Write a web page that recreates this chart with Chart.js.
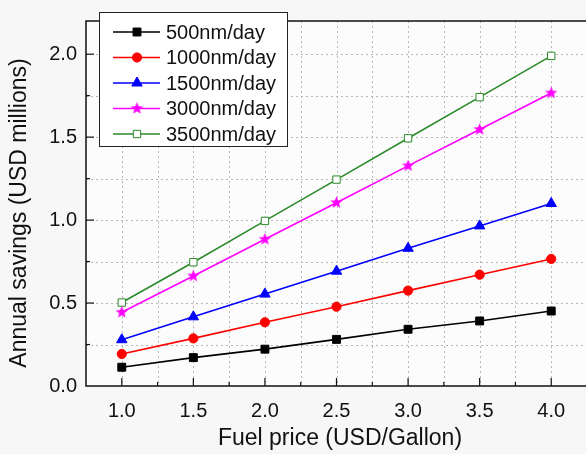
<!DOCTYPE html>
<html>
<head>
<meta charset="utf-8">
<script src="https://cdn.jsdelivr.net/npm/chart.js@4/dist/chart.umd.min.js"></script>
<style>
    html, body { margin: 0; padding: 0; overflow: hidden; background: #f7f7f7; }
    canvas { display: block; }
</style>
</head>
<body>
<canvas id="savingsChart" width="600" height="454"></canvas>
<script>
// ================= DATA =================
const fuelPrices = [1.0, 1.5, 2.0, 2.5, 3.0, 3.5, 4.0];
const seriesNames = ["500nm/day", "1000nm/day", "1500nm/day", "3000nm/day", "3500nm/day"];
const savings500 = [0.113, 0.171, 0.222, 0.281, 0.342, 0.392, 0.452];
const savings1000 = [0.193, 0.287, 0.384, 0.478, 0.575, 0.671, 0.766];
const savings1500 = [0.279, 0.417, 0.554, 0.692, 0.830, 0.965, 1.100];
const savings3000 = [0.444, 0.663, 0.884, 1.105, 1.327, 1.546, 1.766];
const savings3500 = [0.503, 0.746, 0.995, 1.244, 1.493, 1.741, 1.990];
const xTickLabels = ["1.0", "1.5", "2.0", "2.5", "3.0", "3.5", "4.0"];
const yTickLabels = ["0.0", "0.5", "1.0", "1.5", "2.0"];

const FONT = "'Liberation Sans', Arial, sans-serif";

// filled star marker (chart.js 'star' is only strokes)
function makeStar(color, r) {
    const c = document.createElement("canvas");
    const s = Math.ceil(r * 2 + 2);
    c.width = s; c.height = s;
    const g = c.getContext("2d");
    g.fillStyle = color;
    g.beginPath();
    for (let i = 0; i < 10; i++) {
        const rad = i % 2 === 0 ? r : r * 0.42;
        const a = -Math.PI / 2 + i * Math.PI / 5;
        g.lineTo(s / 2 + rad * Math.cos(a), s / 2 + rad * Math.sin(a));
    }
    g.closePath();
    g.fill();
    return c;
}
const starImg = makeStar("#ff00ff", 6.5);

const pts = arr => fuelPrices.map((x, i) => ({ x, y: arr[i] }));

const datasets = [
    { label: seriesNames[0], data: pts(savings500), borderColor: "#000000", backgroundColor: "#000000", pointStyle: "rect", pointRadius: 5.6 },
    { label: seriesNames[1], data: pts(savings1000), borderColor: "#ff0000", backgroundColor: "#ff0000", pointStyle: "circle", pointRadius: 4.6 },
    { label: seriesNames[2], data: pts(savings1500), borderColor: "#0000ff", backgroundColor: "#0000ff", pointStyle: "triangle", pointRadius: 6 },
    { label: seriesNames[3], data: pts(savings3000), borderColor: "#ff00ff", backgroundColor: "#ff00ff", pointStyle: starImg, pointRadius: 6 },
    { label: seriesNames[4], data: pts(savings3500), borderColor: "#2b8a2b", backgroundColor: "#ffffff", pointStyle: "rect", pointRadius: 5.2 }
].map(d => Object.assign(d, { borderWidth: 1.6, pointBorderWidth: 1, pointHoverRadius: d.pointRadius, tension: 0 }));

const isMajor = v => Math.abs(v * 2 - Math.round(v * 2)) < 1e-6;

// ================= FRAME / GRID / LEGEND / TITLES =================
const framePlugin = {
    id: "frame",
    beforeDatasetsDraw(chart) {
        const { ctx, chartArea: a, scales } = chart;
        ctx.save();
        ctx.fillStyle = "#fcfcfc";
        ctx.fillRect(a.left, a.top, a.right - a.left, a.bottom - a.top);

        // dotted grid
        ctx.strokeStyle = "#b8b8b8";
        ctx.lineWidth = 1;
        ctx.setLineDash([2, 3]);
        scales.x.ticks.forEach(t => {
            const px = Math.round(scales.x.getPixelForValue(t.value)) + 0.5;
            if (px <= a.left + 1 || px >= a.right - 1) return;
            ctx.beginPath();
            ctx.moveTo(px, a.top);
            ctx.lineTo(px, a.bottom);
            ctx.stroke();
        });
        scales.y.ticks.forEach(t => {
            const py = Math.round(scales.y.getPixelForValue(t.value)) + 0.5;
            if (py <= a.top + 1 || py >= a.bottom - 1) return;
            ctx.beginPath();
            ctx.moveTo(a.left, py);
            ctx.lineTo(a.right, py);
            ctx.stroke();
        });
        ctx.restore();
    },
    afterDraw(chart) {
        const { ctx, chartArea: a, scales } = chart;
        ctx.save();

        // box
        ctx.strokeStyle = "#111";
        ctx.lineWidth = 1.5;
        ctx.strokeRect(a.left, a.top, a.right - a.left, a.bottom - a.top);

        // inward ticks
        ctx.lineWidth = 1.2;
        scales.x.ticks.forEach(t => {
            const px = scales.x.getPixelForValue(t.value);
            if (px <= a.left + 1 || px >= a.right - 1) return;
            ctx.beginPath();
            ctx.moveTo(px, a.bottom);
            ctx.lineTo(px, a.bottom - (isMajor(t.value) ? 8 : 4));
            ctx.stroke();
        });
        scales.y.ticks.forEach(t => {
            const py = scales.y.getPixelForValue(t.value);
            if (py <= a.top + 1 || py >= a.bottom - 1) return;
            ctx.beginPath();
            ctx.moveTo(a.left, py);
            ctx.lineTo(a.left + (isMajor(t.value) ? 8 : 4), py);
            ctx.stroke();
        });

        // legend
        const lx = 99, ly = 12, lw = 188, lh = 134;
        ctx.fillStyle = "#ffffff";
        ctx.fillRect(lx, ly, lw, lh);
        ctx.strokeStyle = "#222";
        ctx.lineWidth = 1;
        ctx.strokeRect(lx + 0.5, ly + 0.5, lw, lh);
        ctx.font = "20px " + FONT;
        ctx.textBaseline = "middle";
        ctx.textAlign = "left";
        chart.data.datasets.forEach((d, i) => {
            const y = 32 + i * 25.5;
            ctx.strokeStyle = d.borderColor;
            ctx.lineWidth = 1.6;
            ctx.beginPath();
            ctx.moveTo(113, y);
            ctx.lineTo(160, y);
            ctx.stroke();
            ctx.fillStyle = d.backgroundColor;
            ctx.lineWidth = 1;
            Chart.helpers.drawPoint(ctx, { pointStyle: d.pointStyle, radius: d.pointRadius, rotation: 0, borderWidth: 1 }, 137, y);
            ctx.fillStyle = "#111";
            ctx.fillText(d.label, 166, y + 1);
        });

        // axis titles
        ctx.fillStyle = "#111";
        ctx.font = "23px " + FONT;
        ctx.textAlign = "center";
        ctx.fillText("Fuel price (USD/Gallon)", 340, 439);
        ctx.translate(20, 213);
        ctx.rotate(-Math.PI / 2);
        ctx.fillText("Annual savings (USD millions)", 0, 0);
        ctx.restore();
    }
};

// ================= CHART =================
new Chart(document.getElementById("savingsChart"), {
    type: "line",
    data: { datasets },
    plugins: [framePlugin],
    options: {
        responsive: false,
        animation: false,
        devicePixelRatio: 1,
        layout: { padding: { top: 11, right: 5, left: 0, bottom: 0 } },
        plugins: { legend: { display: false }, tooltip: { enabled: false } },
        scales: {
            x: {
                type: "linear",
                min: 0.75,
                max: 4.25,
                afterFit: s => { s.height = 68; },
                grid: { display: false, drawTicks: false },
                border: { display: false },
                ticks: {
                    stepSize: 0.25,
                    padding: 13,
                    maxRotation: 0,
                    autoSkip: false,
                    color: "#111",
                    font: { family: FONT, size: 20 },
                    callback: v => isMajor(v) ? (xTickLabels[Math.round((v - 1) * 2)] ?? "") : ""
                }
            },
            y: {
                type: "linear",
                min: 0,
                max: 2.2,
                afterFit: s => { s.width = 86; },
                grid: { display: false, drawTicks: false },
                border: { display: false },
                ticks: {
                    stepSize: 0.25,
                    padding: 9,
                    autoSkip: false,
                    color: "#111",
                    font: { family: FONT, size: 20 },
                    callback: v => isMajor(v) ? (yTickLabels[Math.round(v * 2)] ?? "") : ""
                }
            }
        }
    }
});
</script>
</body>
</html>
